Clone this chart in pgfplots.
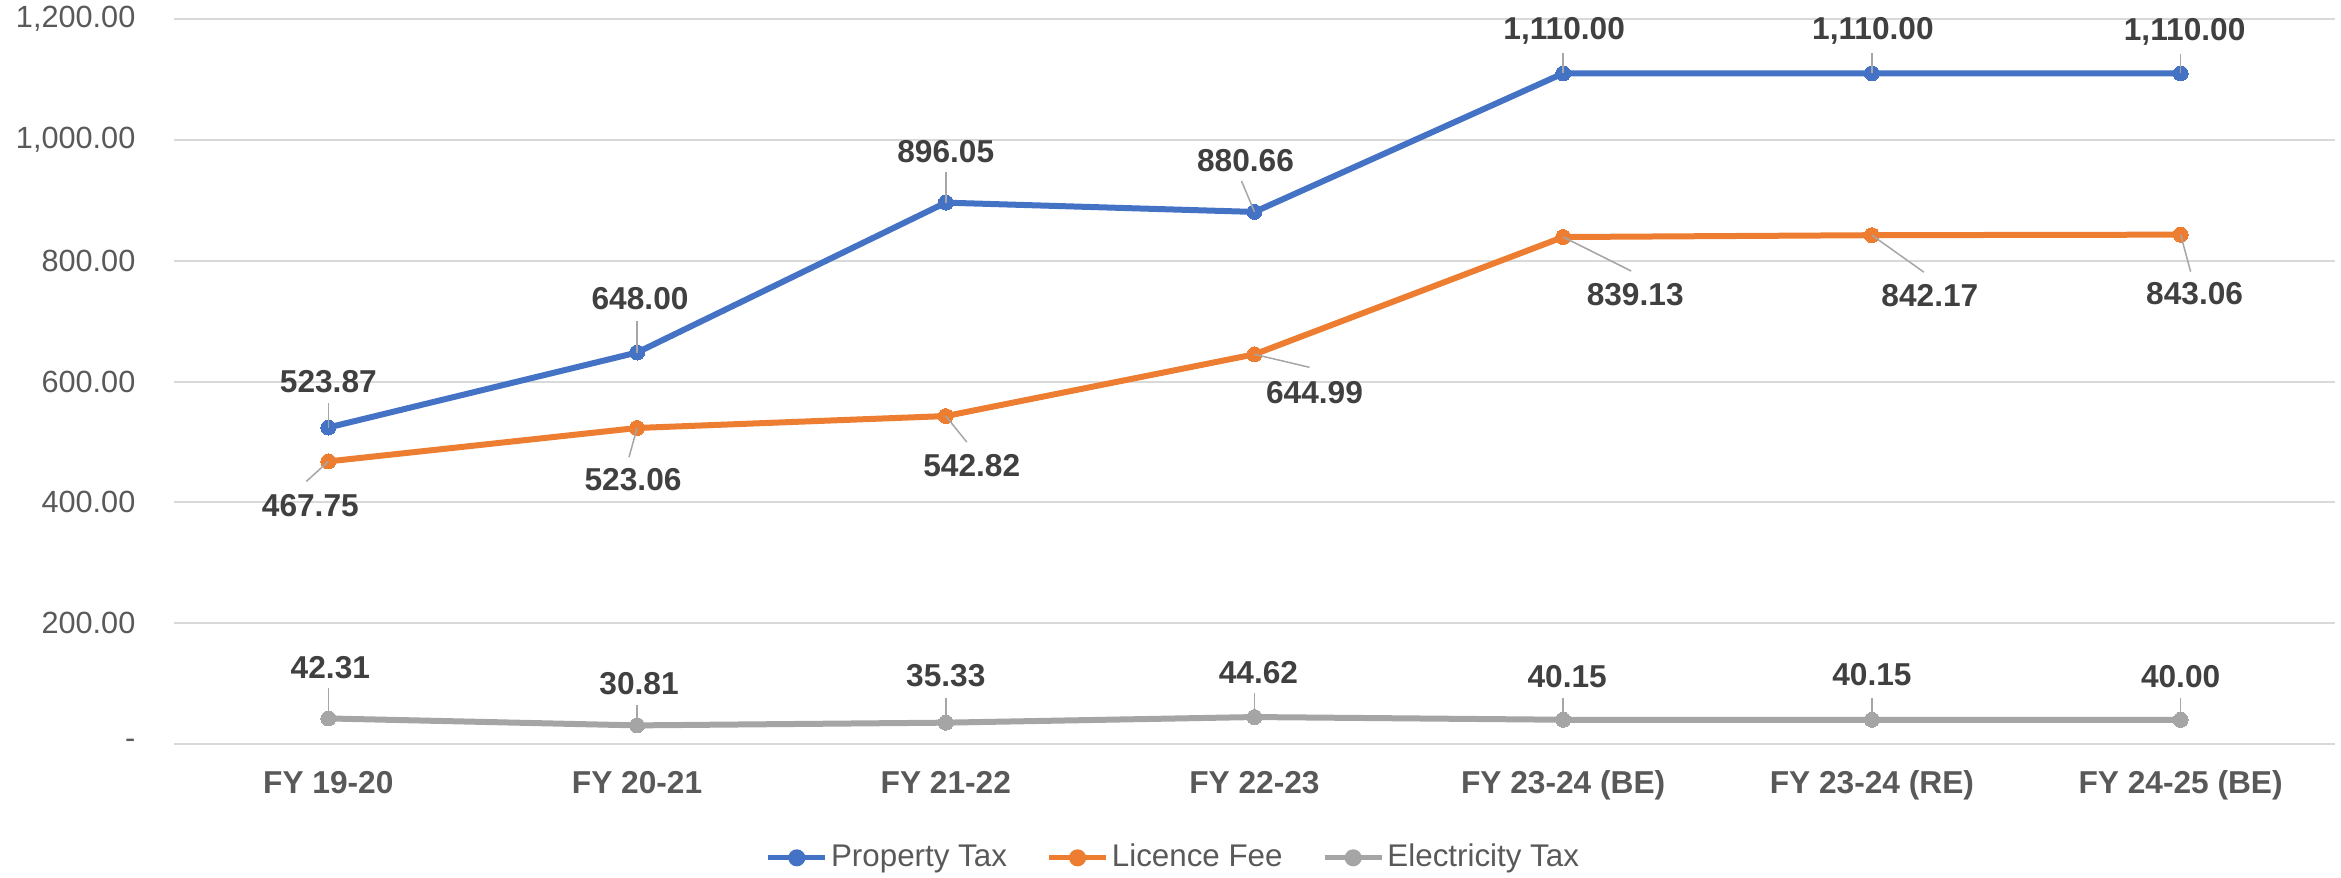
\documentclass[border=0pt]{standalone}
\usepackage{pgfplots}
\pgfplotsset{compat=1.18}
\usepackage{fontspec}
\setmainfont{Liberation Sans}

\definecolor{ptblue}{HTML}{4472C4}
\definecolor{lforange}{HTML}{ED7D31}
\definecolor{etgray}{HTML}{A5A5A5}
\definecolor{gridgray}{HTML}{D9D9D9}
\definecolor{ticktext}{HTML}{595959}
\definecolor{valtext}{HTML}{404040}
\definecolor{leadgray}{HTML}{A6A6A6}

% label offsets (nx,ny) and leader ends (lx,ly) in pt, relative to the point
\pgfplotstableread{
x v nx ny lx ly
0 523.87 0 13.8 0 7.5
1 648.00 0.9 16.2 0 9.6
2 896.05 0 15.3 0 9.3
3 880.66 -2.7 15.3 -3.9 9.3
4 1110.00 0.3 12.6 0 6.0
5 1110.00 0.3 12.6 0 6.0
6 1110.00 1.2 12.3 0 5.7
}\propertytax
\pgfplotstableread{
x v nx ny lx ly
0 467.75 -5.4 -13.2 -6.6 -6.0
1 523.06 -1.2 -15.6 -2.4 -8.7
2 542.82 7.8 -15.0 6.3 -7.8
3 644.99 18.0 -11.4 16.5 -3.9
4 839.13 21.6 -17.4 20.4 -10.2
5 842.17 17.4 -18.0 15.6 -11.1
6 843.06 4.2 -17.7 3.0 -11.1
}\licencefee
\pgfplotstableread{
x v nx ny lx ly
0 42.31 0.6 15.3 0 9.0
1 30.81 0.6 12.6 0 6.0
2 35.33 0 14.1 0 7.5
3 44.62 1.2 13.2 0 7.2
4 40.15 1.2 12.9 0 6.6
5 40.15 0 13.5 0 6.6
6 40.00 0 12.9 0 6.6
}\electricitytax

\pgfplotsset{
  lbl/.style={
    scatter, point meta=explicit, forget plot,
    line width=1.8pt, mark=*, mark size=2.25pt,
    visualization depends on={\thisrow{nx} \as \nx},
    visualization depends on={\thisrow{ny} \as \ny},
    visualization depends on={\thisrow{lx} \as \lx},
    visualization depends on={\thisrow{ly} \as \ly},
    scatter/@pre marker code/.code={},
    scatter/@post marker code/.code={},
    nodes near coords={\pgfmathprintnumber[fixed,fixed zerofill,precision=2,1000 sep={,}]{\pgfplotspointmeta}},
    every node near coord/.append style={anchor=center, xshift=\nx pt, yshift=\ny pt,
      font=\fontsize{9.5}{10}\selectfont\bfseries, text=valtext, inner sep=0pt},
    scatter/@post marker code/.append code={\draw[leadgray, line width=0.45pt] (0pt,0pt) -- (\lx pt,\ly pt);},
  },
}

\begin{document}
\begin{tikzpicture}
\useasboundingbox (-52.2pt,-39.9pt) rectangle (650.1pt,223.2pt);
\begin{axis}[
  scale only axis, width=648.3pt, height=217.5pt,
  xmin=-0.5, xmax=6.5, ymin=0, ymax=1200,
  clip=false,
  /pgf/number format/assume math mode=true,
  xtick={0,...,6},
  xticklabels={FY 19-20, FY 20-21, FY 21-22, FY 22-23, FY 23-24 (BE), FY 23-24 (RE), FY 24-25 (BE)},
  ytick={0,200,...,1200},
  yticklabels={{-\hspace{5.7pt}}, 200.00, 400.00, 600.00, 800.00, {1,000.00}, {1,200.00}},
  axis line style={draw=none},
  major tick length=0pt,
  ymajorgrids, grid style={gridgray, line width=0.6pt},
  yticklabel style={font=\fontsize{9.2}{10}\selectfont, text=ticktext, inner sep=0pt, anchor=east, xshift=-11.4pt},
  xticklabel style={font=\fontsize{9.5}{10}\selectfont\bfseries, text=ticktext, inner sep=0pt, anchor=base, yshift=-14.7pt},
  legend style={at={(0.4628,-0.157)}, anchor=center, legend columns=-1, draw=none, fill=none,
    font=\fontsize{9.4}{10}\selectfont, text=ticktext, nodes={inner xsep=1pt},
    /tikz/every even column/.append style={column sep=10.9pt}},
]
\addplot[lbl, ptblue, mark options={fill=ptblue, draw=ptblue, line width=0pt}]
  table[x=x, y=v, meta=v] {\propertytax};
\addplot[lbl, lforange, mark options={fill=lforange, draw=lforange, line width=0pt}]
  table[x=x, y=v, meta=v] {\licencefee};
\addplot[lbl, etgray, mark options={fill=etgray, draw=etgray, line width=0pt}]
  table[x=x, y=v, meta=v] {\electricitytax};

\addlegendimage{ptblue, line width=1.5pt, mark=*, mark size=1.8pt, mark options={fill=ptblue}}
\addlegendentry{Property Tax}
\addlegendimage{lforange, line width=1.5pt, mark=*, mark size=1.8pt, mark options={fill=lforange}}
\addlegendentry{Licence Fee}
\addlegendimage{etgray, line width=1.5pt, mark=*, mark size=1.8pt, mark options={fill=etgray}}
\addlegendentry{Electricity Tax}
\end{axis}
\end{tikzpicture}
\end{document}
